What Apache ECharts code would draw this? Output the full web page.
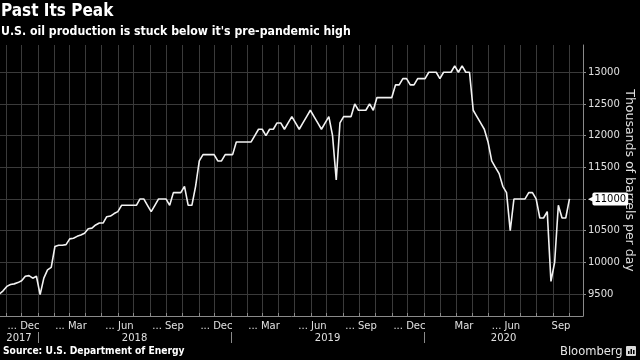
<!DOCTYPE html>
<html><head><meta charset="utf-8">
<script src="https://cdn.jsdelivr.net/npm/echarts@6/dist/echarts.min.js"></script>
<style>html,body{margin:0;padding:0;background:#000}#c{width:640px;height:360px}</style>
</head><body><div id="c"></div>
<script>
// ---- data (weekly U.S. crude production, thousand b/d) ----
const firstWeek = [2017, 9, 20]; // Friday Oct 20, 2017; one value per week after that
const production = [
  // 2017
  9500, 9550, 9620, 9650, 9660, 9680, 9710, 9780, 9790, 9750, 9780,
  // 2018
  9490, 9750, 9880, 9920,
  10250, 10270, 10270, 10280,
  10370, 10380, 10410, 10430, 10460,
  10530, 10540, 10590, 10620,
  10620, 10720, 10730, 10770,
  10800, 10900, 10900, 10900, 10900,
  10900, 11000, 11000, 10900,
  10800, 10900, 11000, 11000, 11000,
  10900, 11100, 11100, 11100,
  11200, 10900, 10900, 11200,
  11600, 11700, 11700, 11700, 11700,
  11600, 11600, 11700, 11700,
  // 2019
  11700, 11900, 11900, 11900,
  11900, 11900, 12000, 12100,
  12100, 12000, 12100, 12100, 12200,
  12200, 12100, 12200, 12300,
  12200, 12100, 12200, 12300, 12400,
  12300, 12200, 12100, 12200,
  12300, 12000, 11300, 12200,
  12300, 12300, 12300, 12500, 12400,
  12400, 12400, 12500, 12400,
  12600, 12600, 12600, 12600,
  12600, 12800, 12800, 12900, 12900,
  12800, 12800, 12900, 12900,
  // 2020
  12900, 13000, 13000, 13000, 12900,
  13000, 13000, 13000, 13100,
  13000, 13100, 13000, 13000,
  12400, 12300, 12200, 12100,
  11900, 11600, 11500, 11400, 11200,
  11100, 10500, 11000, 11000,
  11000, 11000, 11100, 11100, 11000,
  10700, 10700, 10800, 9700,
  10000, 10900, 10700, 10700,
  11000
];
const monthLabelMonths = ['2017-12','2018-03','2018-06','2018-09','2018-12','2019-03','2019-06','2019-09','2019-12','2020-03','2020-06','2020-09'];
const monthLabelTexts  = ['... Dec','... Mar','... Jun','... Sep','... Dec','... Mar','... Jun','... Sep','... Dec','Mar','... Jun','Sep'];
const yearLabels = ['2017','2018','2019','2020'];
const yTickValues = [9500, 10000, 10500, 11000, 11500, 12000, 12500, 13000];
const lastValueTag = 11000;

// ---- derived ----
const DAY = 86400000;
const t0 = Date.UTC(firstWeek[0], firstWeek[1], firstWeek[2]);
const seriesData = production.map((v, i) => [t0 + i * 7 * DAY, v]);
const xMin = Date.UTC(2017, 9, 21, 3);
const xMax = Date.UTC(2020, 9, 27, 15);

const monthStarts = [];
for (let y = 2017, m = 10; y < 2020 || m <= 9; ) {
  monthStarts.push(Date.UTC(y, m, 1));
  m++; if (m > 11) { m = 0; y++; }
}
const monthMid = s => { const [y, m] = s.split('-').map(Number); return (Date.UTC(y, m - 1, 1) + Date.UTC(y, m, 1)) / 2; };
const monthLabelPos = monthLabelMonths.map(monthMid);
const yearStarts = yearLabels.slice(1).map(y => Date.UTC(+y, 0, 1));
const yearLabelPos = yearLabels.map(y => {
  const a = Math.max(xMin, Date.UTC(+y, 0, 1)), b = Math.min(xMax, Date.UTC(+y + 1, 0, 1));
  return (a + b) / 2;
});

const FONT = 'DejaVu Sans';
const COND = '"DejaVu Sans Condensed", "DejaVu Sans", sans-serif';
const GRID = '#3a3a3a';
const AXIS = '#8a8a8a';

const chart = echarts.init(document.getElementById('c'), null, {renderer: 'canvas'});
chart.setOption({
  backgroundColor: '#000',
  animation: false,
  title: [
    {text: 'Past Its Peak', left: 1, top: 3, padding: 0,
     textStyle: {color: '#fff', fontSize: 17, fontWeight: 'bold', fontFamily: COND}},
    {text: "U.S. oil production is stuck below it's pre-pandemic high", left: 1, top: 26, padding: 0,
     textStyle: {color: '#fff', fontSize: 12.2, fontWeight: 'bold', fontFamily: COND}},
    {text: 'Source: U.S. Department of Energy', left: 3, top: 346, padding: 0,
     textStyle: {color: '#fff', fontSize: 10.2, fontWeight: 'bold', fontFamily: COND}},
    {text: 'Bloomberg', left: 560, top: 345, padding: 0,
     textStyle: {color: '#e6e6e6', fontSize: 12.8, fontWeight: 'normal', fontFamily: COND}}
  ],
  graphic: [
    {type: 'rect', shape: {x: 626, y: 346, width: 10, height: 10, r: 1}, style: {fill: '#d9d9d9'}},
    {type: 'rect', shape: {x: 628, y: 351, width: 1.5, height: 3}, style: {fill: '#000'}},
    {type: 'rect', shape: {x: 630.5, y: 349, width: 1.5, height: 5}, style: {fill: '#000'}},
    {type: 'rect', shape: {x: 633, y: 350, width: 1.5, height: 4}, style: {fill: '#000'}}
  ],
  grid: {left: 0, right: 57, top: 45, bottom: 44, containLabel: false, outerBoundsMode: 'none'},
  xAxis: [
    { // gridlines + month ticks
      type: 'value', min: xMin, max: xMax, position: 'bottom',
      axisLine: {show: true, lineStyle: {color: AXIS, width: 1}},
      axisTick: {show: true, inside: true, length: 3, customValues: monthStarts, lineStyle: {color: AXIS}},
      axisLabel: {show: false},
      splitLine: {show: true, lineStyle: {color: GRID, width: 1}}
    },
    { // month labels
      type: 'value', min: xMin, max: xMax, position: 'bottom',
      axisLine: {show: false}, axisTick: {show: false}, splitLine: {show: false},
      axisLabel: {
        show: true, customValues: monthLabelPos, margin: 5,
        formatter: v => {
          const i = monthLabelPos.findIndex(p => Math.abs(p - v) < DAY);
          const t = monthLabelTexts[i] || '';
          if (t.startsWith('... ')) return '{d|... }{m|' + t.slice(4) + '}{h|... }';
          return '{m|' + t + '}';
        },
        rich: {
          d: {color: '#e0e0e0', fontSize: 10, fontFamily: FONT},
          m: {color: '#e0e0e0', fontSize: 10, fontFamily: FONT},
          h: {color: 'rgba(0,0,0,0)', fontSize: 10, fontFamily: FONT}
        }
      }
    },
    { // year labels + separators
      type: 'value', min: xMin, max: xMax, position: 'bottom', offset: 16,
      axisLine: {show: false}, splitLine: {show: false},
      axisTick: {show: true, length: 11, customValues: yearStarts, lineStyle: {color: AXIS}},
      axisLabel: {
        show: true, customValues: yearLabelPos, margin: 1,
        color: '#e0e0e0', fontSize: 10, fontFamily: FONT,
        formatter: v => yearLabels[yearLabelPos.findIndex(p => Math.abs(p - v) < DAY)] || ''
      }
    }
  ],
  yAxis: {
    type: 'value', position: 'right', min: 9153, max: 13430,
    axisLine: {show: true, lineStyle: {color: AXIS}},
    axisTick: {show: true, length: 3, customValues: yTickValues, lineStyle: {color: AXIS}},
    axisLabel: {
      show: true, customValues: yTickValues, margin: 5, color: '#e0e0e0', fontSize: 10, fontFamily: FONT,
      formatter: v => v === lastValueTag ? '{a|◀}{hl|' + v + '}' : String(v),
      rich: {
        a: {color: '#fff', fontSize: 7, fontFamily: FONT, padding: [0, -1, 0, 0]},
        hl: {color: '#000', backgroundColor: '#fff', fontSize: 10, fontFamily: FONT, padding: [2, 2, 1, 2], borderRadius: 2}
      }
    },
    splitLine: {show: true, lineStyle: {color: GRID, width: 1}},
    name: 'Thousands of barrels per day', nameLocation: 'middle', nameRotate: -90, nameGap: 46,
    nameMoveOverlap: false,
    nameTextStyle: {color: '#e0e0e0', fontSize: 12.5, fontFamily: FONT, align: 'center', verticalAlign: 'middle'}
  },
  series: [{
    type: 'line', xAxisIndex: 0, data: seriesData, showSymbol: false, symbol: 'none',
    lineStyle: {color: '#f2f2f2', width: 1.6}, clip: true
  }]
});
</script></body></html>
